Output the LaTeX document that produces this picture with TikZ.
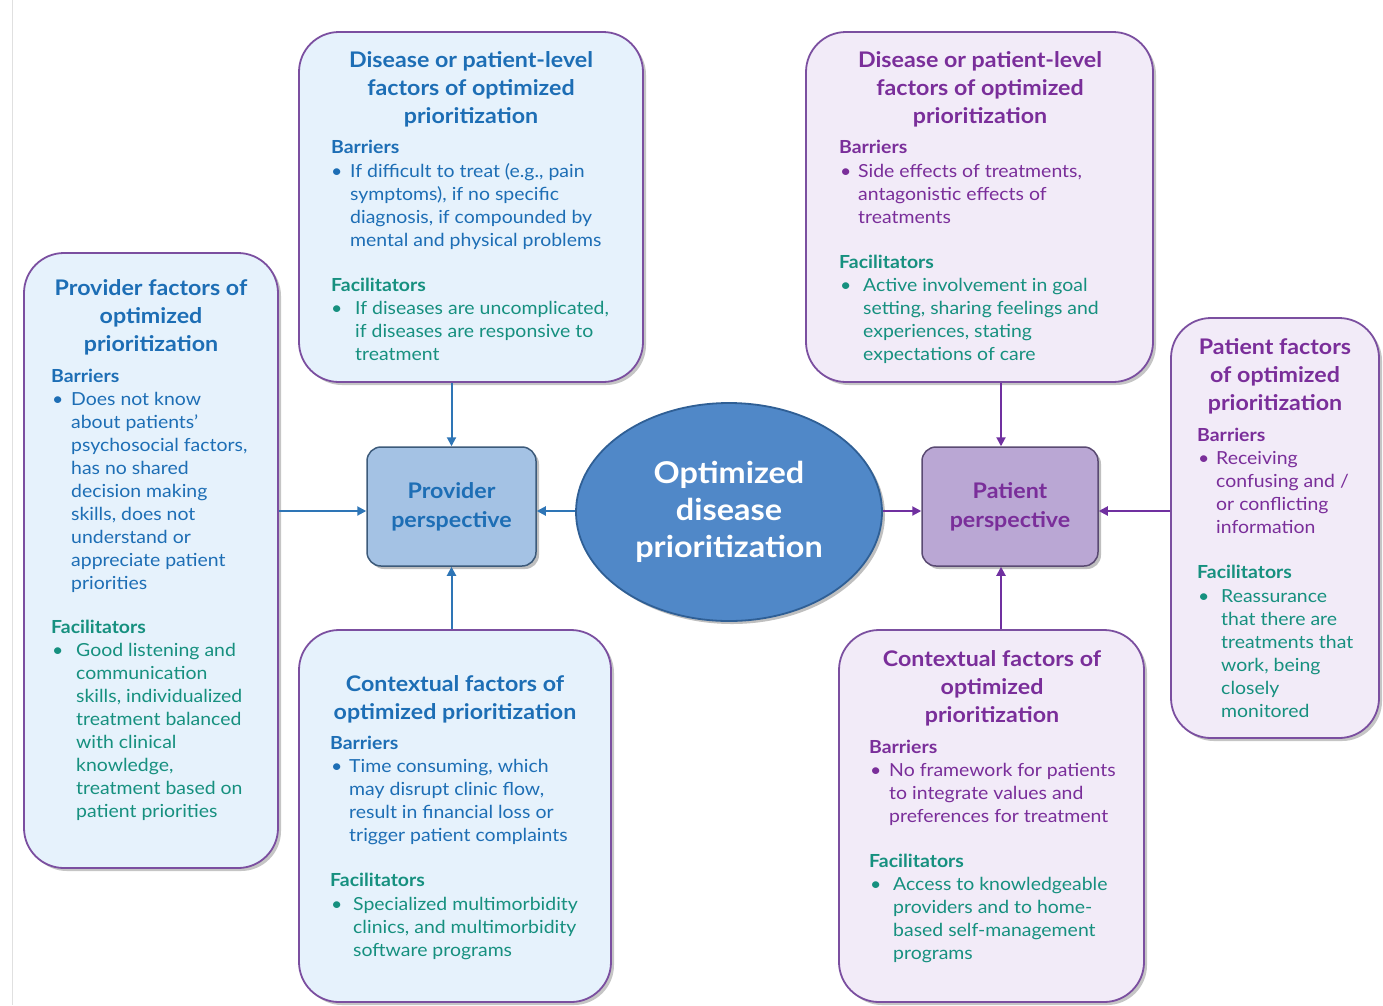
\documentclass[tikz,border=0pt]{standalone}
\usepackage{fontspec}
\setmainfont{Lato}[FakeStretch=1.08]
\usetikzlibrary{shapes.geometric,shadows,arrows.meta}
\definecolor{tblue}{HTML}{1D6EB5}
\definecolor{tpurp}{HTML}{7A2E9A}
\definecolor{tteal}{HTML}{16907F}
\definecolor{lblue}{HTML}{E6F2FC}
\definecolor{lpurp}{HTML}{F2EBF8}
\definecolor{bord}{HTML}{7B4FA0}
\definecolor{ablue}{HTML}{2E75B6}
\definecolor{apurp}{HTML}{7030A0}
\definecolor{ppfill}{HTML}{A4C2E4}
\definecolor{ppbord}{HTML}{3C5A7A}
\definecolor{patfill}{HTML}{BAA7D4}
\definecolor{patbord}{HTML}{5A4A72}
\definecolor{ellfill}{HTML}{5088C8}
\definecolor{ellbord}{HTML}{2F5F95}
\begin{document}
\begin{tikzpicture}[x=1pt,y=-1pt,
  bigbox/.style={draw=bord, line width=1.8pt, rounded corners=40pt, inner sep=0pt,
    drop shadow={opacity=0.45, shadow xshift=3pt, shadow yshift=-3pt}},
  smallbox/.style={line width=1.5pt, rounded corners=14pt, inner sep=0pt, align=center,
    font=\fontsize{21.5}{29}\bfseries\selectfont,
    drop shadow={opacity=0.5, shadow xshift=3pt, shadow yshift=-3pt}},
  ttl/.style={align=center, inner sep=0pt, font=\fontsize{21.5}{28}\bfseries\selectfont},
  body/.style={anchor=north west, inner sep=0pt, align=left, font=\fontsize{18}{23}\selectfont},
  head/.style={anchor=north west, inner sep=0pt, align=left, font=\fontsize{18}{23}\bfseries\selectfont},
  barrow/.style={draw=ablue, line width=2pt, -{Triangle[length=9pt,width=9pt]}},
  parrow/.style={draw=apurp, line width=2pt, -{Triangle[length=9pt,width=9pt]}}
]
\useasboundingbox (0,0) rectangle (1383,1005);
\fill[white] (0,0) rectangle (1383,1005);
\draw[black!12, line width=0.8pt] (12,0) -- (12,1005);

% ---------- boxes ----------
\node[bigbox, fill=lblue, minimum width=344pt, minimum height=350pt] (tl) at (471,207) {};
\node[bigbox, fill=lpurp, minimum width=347pt, minimum height=350pt] (tr) at (979.5,207) {};
\node[bigbox, fill=lblue, minimum width=254pt, minimum height=615pt] (lf) at (151,560.5) {};
\node[bigbox, fill=lpurp, minimum width=208pt, minimum height=420pt] (rt) at (1275,528) {};
\node[bigbox, fill=lblue, minimum width=312pt, minimum height=372pt] (bl) at (455,816) {};
\node[bigbox, fill=lpurp, minimum width=305pt, minimum height=372pt] (br) at (991.5,816) {};

\node[smallbox, draw=ppbord, fill=ppfill, text=tblue, minimum width=169pt, minimum height=119pt] (pp) at (451.5,506.5) {Provider\\perspective};
\node[smallbox, draw=patbord, fill=patfill, text=tpurp, minimum width=176pt, minimum height=119pt] (pat) at (1010,506.5) {Patient\\perspective};
\node[ellipse, draw=ellbord, line width=1.8pt, fill=ellfill, text=white, minimum width=306pt, minimum height=218pt, inner sep=0pt, align=center,
  font=\fontsize{30}{37}\bfseries\selectfont,
  drop shadow={opacity=0.5, shadow xshift=3pt, shadow yshift=-3pt}] (ell) at (729,512) {Optimized\\disease\\prioritization};

% ---------- arrows ----------
\draw[barrow] (pp.north |- tl.south) -- (pp.north);
\draw[barrow] (pp.south |- bl.north) -- (pp.south);
\draw[barrow] (lf.east |- 0,511) -- (pp.west |- 0,511);
\draw[barrow] (ell.west |- 0,511) -- (pp.east |- 0,511);
\coordinate (pn) at ([xshift=-9pt]pat.north);
\coordinate (ps) at ([xshift=-9pt]pat.south);
\draw[parrow] (pn |- tr.south) -- (pn);
\draw[parrow] (ps |- br.north) -- (ps);
\draw[parrow] (ell.east |- 0,511) -- (pat.west |- 0,511);
\draw[parrow] (rt.west |- 0,511) -- (pat.east |- 0,511);

% ---------- top-left ----------
\node[ttl, text=tblue] (tlT) at (471,89) {Disease or patient-level\\factors of optimized\\prioritization};
\node[head, text=tblue] (tlB) at (331,137) {\strut Barriers};
\node[body, text=tblue] (tlb1) at (331,161) {\strut•};
\node[body, text=tblue] (tlb) at (350,161) {\strut If difficult to treat (e.g., pain\\symptoms), if no specific\\diagnosis, if compounded by\\mental and physical problems};
\node[head, text=tteal] (tlF) at (331,275) {\strut Facilitators};
\node[body, text=tteal] (tlf1) at (331,298) {\strut•};
\node[body, text=tteal] (tlf) at (355,298) {\strut If diseases are uncomplicated,\\if diseases are responsive to\\treatment};

% ---------- top-right ----------
\node[ttl, text=tpurp] (trT) at (980,89) {Disease or patient-level\\factors of optimized\\prioritization};
\node[head, text=tpurp] (trB) at (839,137) {\strut Barriers};
\node[body, text=tpurp] (trb1) at (840,161) {\strut•};
\node[body, text=tpurp] (trb) at (858,161) {\strut Side effects of treatments,\\antagonistic effects of\\treatments};
\node[head, text=tteal] (trF) at (839,252) {\strut Facilitators};
\node[body, text=tteal] (trf1) at (840,275) {\strut•};
\node[body, text=tteal] (trf) at (863,275) {\strut Active involvement in goal\\setting, sharing feelings and\\experiences, stating\\expectations of care};

% ---------- left ----------
\node[ttl, text=tblue] (lfT) at (151,317) {Provider factors of\\optimized\\prioritization};
\node[head, text=tblue] (lfB) at (51,366) {\strut Barriers};
\node[body, text=tblue] (lfb1) at (52,389) {\strut•};
\node[body, text=tblue] (lfb) at (71,389) {\strut Does not know\\about patients’\\psychosocial factors,\\has no shared\\decision making\\skills, does not\\understand or\\appreciate patient\\priorities};
\node[head, text=tteal] (lfF) at (51,617) {\strut Facilitators};
\node[body, text=tteal] (lff1) at (52,640) {\strut•};
\node[body, text=tteal] (lff) at (76,640) {\strut Good listening and\\communication\\skills, individualized\\treatment balanced\\with clinical\\knowledge,\\treatment based on\\patient priorities};

% ---------- right ----------
\node[ttl, text=tpurp] (rtT) at (1275,376) {Patient factors\\of optimized\\prioritization};
\node[head, text=tpurp] (rtB) at (1197,425) {\strut Barriers};
\node[body, text=tpurp] (rtb1) at (1198,448) {\strut•};
\node[body, text=tpurp] (rtb) at (1216,448) {\strut Receiving\\confusing and /\\or conflicting\\information};
\node[head, text=tteal] (rtF) at (1197,562) {\strut Facilitators};
\node[body, text=tteal] (rtf1) at (1198,586) {\strut•};
\node[body, text=tteal] (rtf) at (1221,586) {\strut Reassurance\\that there are\\treatments that\\work, being\\closely\\monitored};

% ---------- bottom-left ----------
\node[ttl, text=tblue] (blT) at (455,699) {Contextual factors of\\optimized prioritization};
\node[head, text=tblue] (blB) at (330,733) {\strut Barriers};
\node[body, text=tblue] (blb1) at (331,756) {\strut•};
\node[body, text=tblue] (blb) at (349,756) {\strut Time consuming, which\\may disrupt clinic flow,\\result in financial loss or\\trigger patient complaints};
\node[head, text=tteal] (blF) at (330,870) {\strut Facilitators};
\node[body, text=tteal] (blf1) at (331,894) {\strut•};
\node[body, text=tteal] (blf) at (353,894) {\strut Specialized multimorbidity\\clinics, and multimorbidity\\software programs};

% ---------- bottom-right ----------
\node[ttl, text=tpurp] (brT) at (992,688) {Contextual factors of\\optimized\\prioritization};
\node[head, text=tpurp] (brB) at (869,737) {\strut Barriers};
\node[body, text=tpurp] (brb1) at (870,760) {\strut•};
\node[body, text=tpurp] (brb) at (889,760) {\strut No framework for patients\\to integrate values and\\preferences for treatment};
\node[head, text=tteal] (brF) at (869,851) {\strut Facilitators};
\node[body, text=tteal] (brf1) at (870,874) {\strut•};
\node[body, text=tteal] (brf) at (893,874) {\strut Access to knowledgeable\\providers and to home-\\based self-management\\programs};
\end{tikzpicture}
\end{document}
